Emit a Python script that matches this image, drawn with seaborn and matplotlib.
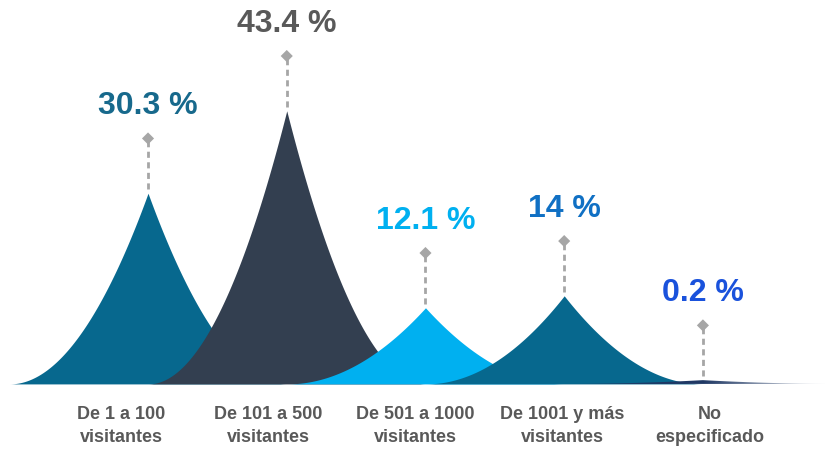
import numpy as np
import pandas as pd
import matplotlib
matplotlib.use("Agg")
import matplotlib.pyplot as plt
import seaborn as sns
from matplotlib.colors import LinearSegmentedColormap

# ---- data ----
categories = ["De 1 a 100\nvisitantes", "De 101 a 500\nvisitantes",
              "De 501 a 1000\nvisitantes", "De 1001 y más\nvisitantes",
              "No\nespecificado"]
values = [30.3, 43.4, 12.1, 14.0, 0.2]
value_labels = ["30.3 %", "43.4 %", "12.1 %", "14 %", "0.2 %"]
fill_colors = ["#07688E", "#333F50", "#00B0F0", "#07688E", "#1F3864"]
label_colors = ["#17698C", "#595959", "#00B0F0", "#1070C4", "#1A52DC"]

sns.set_theme(style="white")
plt.rcParams["font.family"] = ["Liberation Sans", "DejaVu Sans"]

fig = plt.figure(figsize=(8.25, 4.5), dpi=100)
ax = fig.add_axes([0, 0, 1, 1])

half_w = 1.0
power = 2.0
rows = []
for i, (cat, v) in enumerate(zip(categories, values)):
    h = max(v, 0.6)  # keep the tiny spike visible
    xs = np.linspace(i - half_w, i + half_w, 401)
    t = np.clip(1 - np.abs(xs - i) / half_w, 0, 1)
    ys = h * t ** power
    for x, y in zip(xs, ys):
        rows.append({"cat": cat, "x": x, "y": y, "idx": i})
df = pd.DataFrame(rows)

for i, cat in enumerate(categories):
    sub = df[df["cat"] == cat]
    if i == len(categories) - 1:
        poly = ax.fill_between(sub["x"], 0, sub["y"], color="none", lw=0, zorder=i + 1)
        cmap = LinearSegmentedColormap.from_list("fade", [fill_colors[i], fill_colors[i], "#FFFFFF"])
        grad = np.linspace(0, 1, 256).reshape(1, -1)
        im = ax.imshow(grad, extent=[i - half_w, i + half_w, 0, 1.0], aspect="auto",
                       cmap=cmap, zorder=i + 1)
        path = poly.get_paths()[0]
        im.set_clip_path(path, transform=ax.transData)
    else:
        ax.fill_between(sub["x"], 0, sub["y"], color=fill_colors[i], lw=0, zorder=i + 1)

# leader lines, diamonds, value labels
peaks = [max(v, 0.6) for v in values]
diamond_y = [p + 8.7 for p in peaks]
for i, (p, dy) in enumerate(zip(peaks, diamond_y)):
    ax.plot([i, i], [p + 0.6, dy], color="#A6A6A6", lw=2.0, ls=(0, (2.2, 1.6)), zorder=10)
    ax.text(i, p + 13.8, value_labels[i], ha="center", va="center", fontsize=23,
            fontweight="bold", color=label_colors[i], zorder=11)
mk = pd.DataFrame({"x": list(range(len(values))), "y": diamond_y})
sns.scatterplot(data=mk, x="x", y="y", marker="D", s=38, color="#A6A6A6",
                edgecolor="none", ax=ax, zorder=12, legend=False)

# category labels
for i, cat in enumerate(categories):
    px = 121 + 147.2 * i
    xd = (px - 148) / 138.75
    ax.text(xd, -6.7, cat, ha="center", va="center", fontsize=13, fontweight="bold",
            color="#595959", linespacing=1.45)

ax.set_xlim(-1.067, 4.88)
ax.set_ylim(-10.5, 61.0)
ax.axis("off")
fig.savefig("out.png", dpi=100)
